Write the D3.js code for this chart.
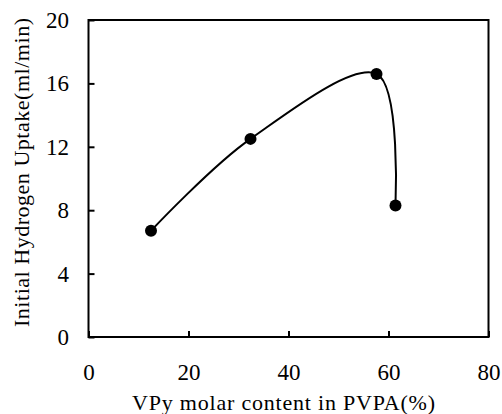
<!DOCTYPE html>
<html><head><meta charset="utf-8">
<script src="https://cdn.jsdelivr.net/npm/d3@7"></script>
<style>body{margin:0;background:#fff}svg{display:block}</style>
</head><body>
<svg id="c" width="502" height="414"></svg>
<script>
const vpyContent = [12.5, 32.4, 57.6, 61.4];
const uptake = [6.7, 12.5, 16.6, 8.3];
const xTicks = [0, 20, 40, 60, 80];
const yTicks = [0, 4, 8, 12, 16, 20];
const xTitle = "VPy molar content in PVPA(%)";
const yTitle = "Initial Hydrogen Uptake(ml/min)";

const FONT = "'Liberation Serif', 'Times New Roman', Tinos, 'DejaVu Serif', serif";
const svg = d3.select("#c").style("font-family", FONT);
const L = 88.5, R = 488.5, T = 20, B = 337;
const x = d3.scaleLinear().domain([0, 80]).range([L, R]);
const y = d3.scaleLinear().domain([0, 20]).range([B, T]);

svg.append("rect").attr("x", L).attr("y", T).attr("width", R - L).attr("height", B - T)
  .attr("fill", "none").attr("stroke", "#000").attr("stroke-width", 2);

const xAxis = svg.append("g").attr("transform", `translate(0,${B})`)
  .call(d3.axisBottom(x).tickValues(xTicks).tickSizeInner(-6).tickSizeOuter(0));
const yAxis = svg.append("g").attr("transform", `translate(${L},0)`)
  .call(d3.axisLeft(y).tickValues(yTicks).tickSizeInner(-6).tickSizeOuter(0));
[xAxis, yAxis].forEach(g => {
  g.attr("font-family", null).attr("font-size", null);
  g.select(".domain").remove();
  g.selectAll(".tick line").attr("stroke", "#000").attr("stroke-width", 2);
  g.selectAll(".tick text").style("font-family", FONT).style("font-size", "23px").attr("fill", "#000");
});
xAxis.selectAll(".tick text").attr("y", 43).attr("dy", null);
yAxis.selectAll(".tick text").attr("x", -19.5).attr("dy", "0.33em");

const pts = vpyContent.map((v, i) => [v, uptake[i]]);
const line = d3.line().x(d => x(d[0])).y(d => y(d[1])).curve(d3.curveCardinal.tension(0));
svg.append("path").attr("d", line(pts)).attr("fill", "none").attr("stroke", "#000").attr("stroke-width", 2);
svg.selectAll("circle.p").data(pts).join("circle").attr("class", "p")
  .attr("cx", d => x(d[0])).attr("cy", d => y(d[1])).attr("r", 6).attr("fill", "#000");

svg.append("text").attr("x", 283.5).attr("y", 410).attr("text-anchor", "middle")
  .attr("textLength", 303).attr("lengthAdjust", "spacing")
  .style("font-family", FONT).style("font-size", "22px").text(xTitle);
svg.append("text").attr("transform", `translate(29,172.5) rotate(-90)`).attr("text-anchor", "middle")
  .attr("textLength", 309).attr("lengthAdjust", "spacing")
  .style("font-family", FONT).style("font-size", "22px").text(yTitle);
</script>
</body></html>
